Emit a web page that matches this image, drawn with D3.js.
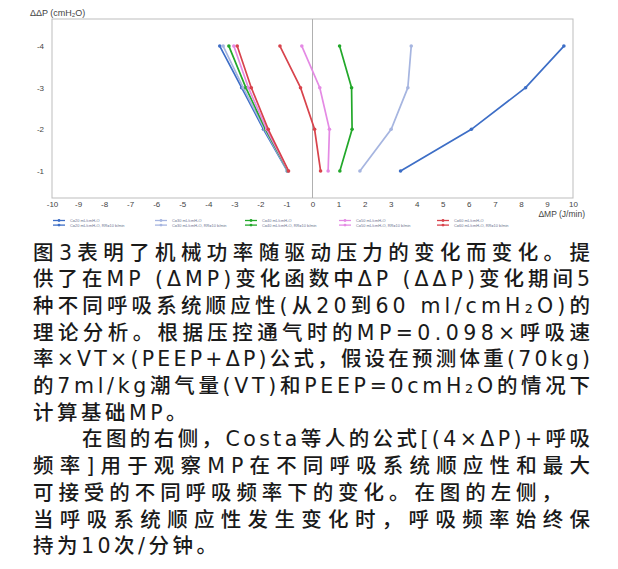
<!DOCTYPE html>
<html><head><meta charset="utf-8">
<script src="https://cdn.jsdelivr.net/npm/d3@7"></script>
<style>body{margin:0;background:#fff}svg{display:block}</style>
</head><body>
<svg id="c" width="618" height="569"></svg>
<script>
const deltaP = [-1, -2, -3, -4];
const compliances = ["C=20 mL/cmH₂O", "C=30 mL/cmH₂O", "C=40 mL/cmH₂O", "C=50 mL/cmH₂O", "C=60 mL/cmH₂O"];
const colors = ["#3d6ec6", "#a6b5e0", "#22a82a", "#e48ae4", "#d8434c"];
// right side: RR varied (Costa formula)
const mpVarRR = [
  [3.38, 6.10, 8.18, 9.65],
  [1.82, 3.02, 3.66, 3.79],
  [1.05, 1.52, 1.50, 1.04],
  [0.60, 0.65, 0.28, -0.41],
  [0.31, 0.08, -0.46, -1.25]
];
// left side: RR = 10 b/min
const mpRR10 = [
  [-0.97, -1.88, -2.72, -3.56],
  [-0.96, -1.84, -2.66, -3.43],
  [-0.94, -1.80, -2.56, -3.21],
  [-0.93, -1.76, -2.46, -3.02],
  [-0.92, -1.70, -2.35, -2.89]
];
const xTicks = d3.range(-10, 11, 1);
const yTicks = [-4, -3, -2, -1];
const textLines = [
  "图3表明了机械功率随驱动压力的变化而变化。提",
  "供了在MP (ΔMP)变化函数中ΔP (ΔΔP)变化期间5",
  "种不同呼吸系统顺应性(从20到60 ml/cmH₂O)的",
  "理论分析。根据压控通气时的MP=0.098×呼吸速",
  "率×VT×(PEEP+ΔP)公式，假设在预测体重(70kg)",
  "的7ml/kg潮气量(VT)和PEEP=0cmH₂O的情况下",
  "计算基础MP。",
  "在图的右侧，Costa等人的公式[(4×ΔP)+呼吸",
  "频率]用于观察MP在不同呼吸系统顺应性和最大",
  "可接受的不同呼吸频率下的变化。在图的左侧，",
  "当呼吸系统顺应性发生变化时，呼吸频率始终保",
  "持为10次/分钟。"
];

const svg = d3.select("#c");
const L = 52, R = 573, T = 19, B = 198;
const x = d3.scaleLinear().domain([-10, 10]).range([L, R]);
const y = d3.scaleLinear().domain([-4.65, -0.35]).range([T, B]);
const sans = "Liberation Sans, Arial, sans-serif";

// frame
svg.append("rect").attr("x", L).attr("y", T).attr("width", R - L).attr("height", B - T)
  .attr("fill", "none").attr("stroke", "#bdbdbd").attr("stroke-width", 1);
svg.append("line").attr("x1", x(0)).attr("x2", x(0)).attr("y1", T).attr("y2", B)
  .attr("stroke", "#b0b0b0").attr("stroke-width", 1);

// axes
const fmt = d => String(d);
const xa = svg.append("g").attr("transform", `translate(0,${B})`)
  .call(d3.axisBottom(x).tickValues(xTicks).tickSize(0).tickPadding(3).tickFormat(fmt));
xa.select(".domain").remove();
xa.selectAll("text").attr("font-family", sans).attr("font-size", 8).attr("fill", "#444");
const ya = svg.append("g").attr("transform", `translate(${L},0)`)
  .call(d3.axisLeft(y).tickValues(yTicks).tickSize(0).tickPadding(8).tickFormat(fmt));
ya.select(".domain").remove();
ya.selectAll("text").attr("font-family", sans).attr("font-size", 8).attr("fill", "#444");

svg.append("text").attr("x", 30).attr("y", 16).attr("font-family", sans)
  .attr("font-size", 9).attr("fill", "#444").text("ΔΔP (cmH₂O)");
svg.append("text").attr("x", 585).attr("y", 217).attr("text-anchor", "end").attr("font-family", sans)
  .attr("font-size", 8.5).attr("fill", "#444").text("ΔMP (J/min)");

// series
const line = d3.line().x(d => x(d[0])).y(d => y(d[1]));
function drawSeries(vals, color, w) {
  const pts = vals.map((v, i) => [v, deltaP[i]]);
  svg.append("path").attr("d", line(pts)).attr("fill", "none").attr("stroke", color).attr("stroke-width", w);
  svg.selectAll(null).data(pts).enter().append("circle")
    .attr("cx", d => x(d[0])).attr("cy", d => y(d[1])).attr("r", 1.8).attr("fill", color);
}
mpRR10.forEach((s, i) => drawSeries(s, colors[i], 1.7));
mpVarRR.forEach((s, i) => drawSeries(s, colors[i], 1.7));

// legend
const legX = [53, 155, 245, 339, 437];
compliances.forEach((c, i) => {
  [0, 1].forEach(r => {
    const ly = 220.5 + r * 4.6;
    svg.append("line").attr("x1", legX[i]).attr("x2", legX[i] + 12).attr("y1", ly).attr("y2", ly)
      .attr("stroke", colors[i]).attr("stroke-width", 1.3);
    svg.append("circle").attr("cx", legX[i] + 6).attr("cy", ly).attr("r", 1.4).attr("fill", colors[i]);
    svg.append("text").attr("x", legX[i] + 17).attr("y", ly + 1.4)
      .attr("font-family", sans).attr("font-size", 3.9).attr("fill", "#6a7390")
      .text(r === 0 ? c : c + ", RR=10 b/min");
  });
});

// paragraph text
const ends = [590, 590, 590, 590, 590, 590, null, 590, 590, 562, 590, null];
textLines.forEach((t, i) => {
  const sx = i === 7 ? 82 : 33;
  const tx = svg.append("text").attr("x", sx).attr("y", 259.5 + i * 26.7)
    .attr("font-family", "DejaVu Sans, Noto Sans CJK SC, sans-serif").attr("font-size", 20.5)
    .attr("font-weight", 500).attr("fill", "#1a1a1a").text(t);
  if (ends[i]) tx.attr("textLength", ends[i] - sx).attr("lengthAdjust", "spacing");
  else tx.attr("letter-spacing", 3.5);
});
</script>
</body></html>
